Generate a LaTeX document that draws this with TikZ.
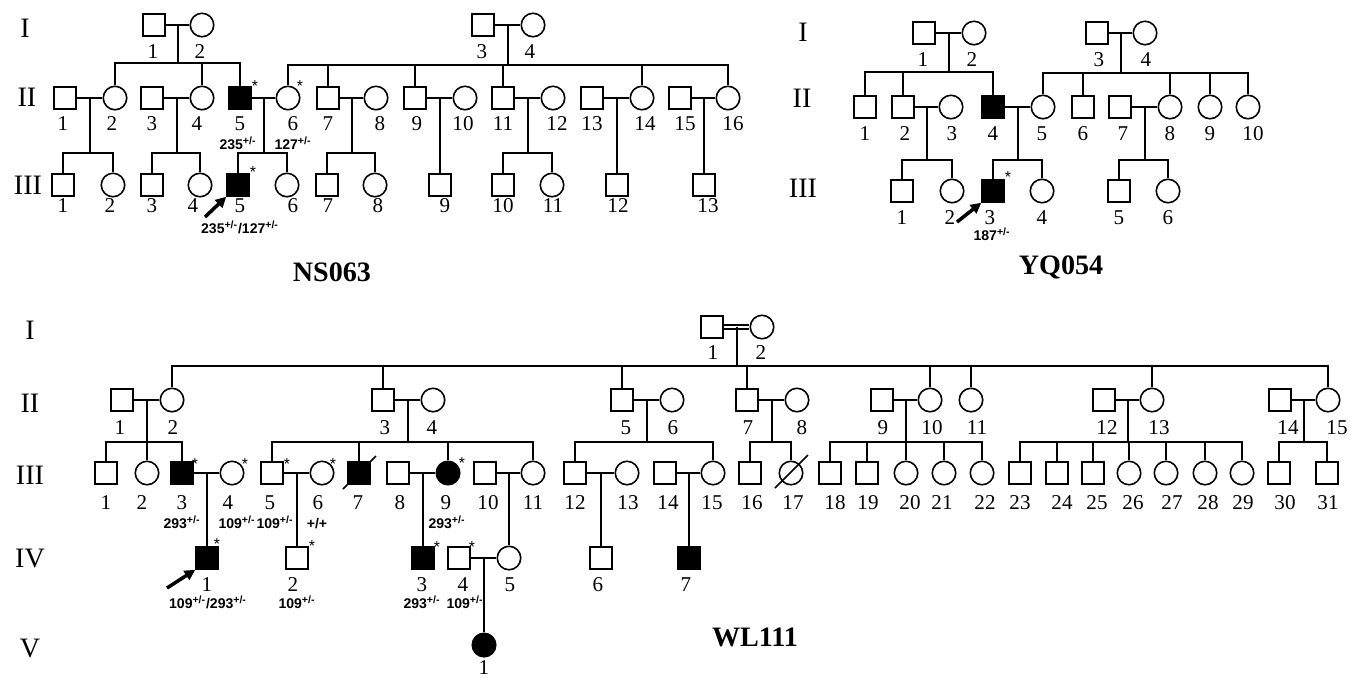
\documentclass[tikz,border=0pt]{standalone}
\usepackage{fontspec}
\setmainfont{Liberation Serif}
\newfontfamily\genofont{Liberation Sans}
\usepackage{tikz}
\usetikzlibrary{calc,arrows.meta}

\newcommand{\het}{\textsuperscript{+/-}}

\begin{document}
\begin{tikzpicture}[x=0.02cm, y=-0.02cm, line width=0.9pt,
  male/.style={draw, rectangle, minimum size=0.44cm, inner sep=0pt},
  female/.style={draw, circle, minimum size=0.47cm, inner sep=0pt},
  aff/.style={fill=black},
  num/.style={font=\fontsize{12}{14}\selectfont, inner sep=0pt},
  gen/.style={font=\fontsize{16}{18}\selectfont, inner sep=0pt},
  geno/.style={font=\genofont\bfseries\fontsize{8}{9}\selectfont, inner sep=0pt, anchor=base},
  star/.style={font=\genofont\fontsize{9}{10}\selectfont, inner sep=0pt},
  ped/.style={font=\bfseries\fontsize{16}{18}\selectfont, inner sep=0pt},
  proband/.style={-{Triangle[length=6pt,width=6pt]}, line width=2pt}]

\useasboundingbox (0,0) rectangle (1352,677);

%%%%%%%%%%%%%%%% NS063 %%%%%%%%%%%%%%%%
\node[gen] (nsGI) at (25,28) {I};
\node[gen] (nsGII) at (27,97) {II};
\node[gen] (nsGIII) at (28,185) {III};

% generation I
\node[male] (nsI1) at (154,25) {};
\node[female] (nsI2) at (202,25) {};
\node[male] (nsI3) at (483,25) {};
\node[female] (nsI4) at (533,25) {};

% generation II
\node[male] (nsII1) at (65,98) {};
\node[female] (nsII2) at (115,98) {};
\node[male] (nsII3) at (152,98) {};
\node[female] (nsII4) at (202,98) {};
\node[male, aff] (nsII5) at (240,98) {};
\node[female] (nsII6) at (288,98) {};
\node[male] (nsII7) at (328,98) {};
\node[female] (nsII8) at (376,98) {};
\node[male] (nsII9) at (415,98) {};
\node[female] (nsII10) at (465,98) {};
\node[male] (nsII11) at (503,98) {};
\node[female] (nsII12) at (553,98) {};
\node[male] (nsII13) at (592,98) {};
\node[female] (nsII14) at (642,98) {};
\node[male] (nsII15) at (680,98) {};
\node[female] (nsII16) at (728,98) {};

% generation III
\node[male] (nsIII1) at (63,185) {};
\node[female] (nsIII2) at (113,185) {};
\node[male] (nsIII3) at (152,185) {};
\node[female] (nsIII4) at (200,185) {};
\node[male, aff] (nsIII5) at (238,185) {};
\node[female] (nsIII6) at (287,185) {};
\node[male] (nsIII7) at (327,185) {};
\node[female] (nsIII8) at (375,185) {};
\node[male] (nsIII9) at (440,185) {};
\node[male] (nsIII10) at (503,185) {};
\node[female] (nsIII11) at (552,185) {};
\node[male] (nsIII12) at (617,185) {};
\node[male] (nsIII13) at (704,185) {};

% couples
\draw (nsI1) -- (nsI2);   \coordinate (nsC1) at ($(nsI1)!0.5!(nsI2)$);
\draw (nsI3) -- (nsI4);   \coordinate (nsC2) at ($(nsI3)!0.5!(nsI4)$);
\draw (nsII1) -- (nsII2); \coordinate (nsC3) at ($(nsII1)!0.5!(nsII2)$);
\draw (nsII3) -- (nsII4); \coordinate (nsC4) at ($(nsII3)!0.5!(nsII4)$);
\draw (nsII5) -- (nsII6); \coordinate (nsC5) at ($(nsII5)!0.5!(nsII6)$);
\draw (nsII7) -- (nsII8); \coordinate (nsC6) at ($(nsII7)!0.5!(nsII8)$);
\draw (nsII9) -- (nsII10); \coordinate (nsC7) at ($(nsII9)!0.5!(nsII10)$);
\draw (nsII11) -- (nsII12); \coordinate (nsC8) at ($(nsII11)!0.5!(nsII12)$);
\draw (nsII13) -- (nsII14); \coordinate (nsC9) at ($(nsII13)!0.5!(nsII14)$);
\draw (nsII15) -- (nsII16); \coordinate (nsC10) at ($(nsII15)!0.5!(nsII16)$);

% sibships
\coordinate (nsS1) at (nsC1 |- 0,63);
\draw (nsC1) -- (nsS1);
\foreach \k in {nsII2,nsII4,nsII5} \draw (\k.north) |- (nsS1);
\coordinate (nsS2) at (nsC2 |- 0,65);
\draw (nsC2) -- (nsS2);
\foreach \k in {nsII6,nsII7,nsII9,nsII11,nsII14,nsII16} \draw (\k.north) |- (nsS2);
\coordinate (nsS3) at (nsC3 |- 0,153);
\draw (nsC3) -- (nsS3);
\foreach \k in {nsIII1,nsIII2} \draw (\k.north) |- (nsS3);
\coordinate (nsS4) at (nsC4 |- 0,153);
\draw (nsC4) -- (nsS4);
\foreach \k in {nsIII3,nsIII4} \draw (\k.north) |- (nsS4);
\coordinate (nsS5) at (nsC5 |- 0,153);
\draw (nsC5) -- (nsS5);
\foreach \k in {nsIII5,nsIII6} \draw (\k.north) |- (nsS5);
\coordinate (nsS6) at (nsC6 |- 0,153);
\draw (nsC6) -- (nsS6);
\foreach \k in {nsIII7,nsIII8} \draw (\k.north) |- (nsS6);
\coordinate (nsS8) at (nsC8 |- 0,153);
\draw (nsC8) -- (nsS8);
\foreach \k in {nsIII10,nsIII11} \draw (\k.north) |- (nsS8);
\draw (nsC7) -- (nsC7 |- nsIII9.north);
\draw (nsC9) -- (nsC9 |- nsIII12.north);
\draw (nsC10) -- (nsC10 |- nsIII13.north);

% numbers
\foreach \n/\x in {1/153,2/200,3/482,4/530}
  \node[num] (nsIl\n) at (\x,52) {\n};
\foreach \n/\x in {1/63,2/112,3/152,4/197,5/240,6/293,7/328,8/380,9/417,10/463,11/503,12/557,13/592,14/645,15/685,16/733}
  \node[num] (nsIIl\n) at (\x,124) {\n};
\foreach \n/\x in {1/63,2/110,3/152,4/193,5/240,6/293,7/328,8/378,9/445,10/503,11/553,12/618,13/708}
  \node[num] (nsIIIl\n) at (\x,206) {\n};

% genotypes and marks
\node[geno] (nsG1) at (238,149) {235\het};
\node[geno] (nsG2) at (293,149) {127\het};
\node[geno] (nsG3) at (240,233) {235\het/127\het};
\node[star] (nsT1) at (255,86) {*};
\node[star] (nsT2) at (300,86) {*};
\node[star] (nsT3) at (253,172) {*};
\coordinate (nsPb) at (205,217);
\draw[proband] (nsPb) -- (nsIII5.south west);
\node[ped] (nsName) at (332,272) {NS063};

%%%%%%%%%%%%%%%% YQ054 %%%%%%%%%%%%%%%%
\node[gen] (yqGI) at (803,32) {I};
\node[gen] (yqGII) at (802,98) {II};
\node[gen] (yqGIII) at (803,188) {III};

% generation I
\node[male] (yqI1) at (924,33) {};
\node[female] (yqI2) at (974,33) {};
\node[male] (yqI3) at (1097,33) {};
\node[female] (yqI4) at (1145,33) {};

% generation II
\node[male] (yqII1) at (865,107) {};
\node[male] (yqII2) at (903,107) {};
\node[female] (yqII3) at (951,107) {};
\node[male, aff] (yqII4) at (993,107) {};
\node[female] (yqII5) at (1043,107) {};
\node[male] (yqII6) at (1083,107) {};
\node[male] (yqII7) at (1120,107) {};
\node[female] (yqII8) at (1170,107) {};
\node[female] (yqII9) at (1210,107) {};
\node[female] (yqII10) at (1248,107) {};

% generation III
\node[male] (yqIII1) at (902,191) {};
\node[female] (yqIII2) at (952,191) {};
\node[male, aff] (yqIII3) at (993,191) {};
\node[female] (yqIII4) at (1042,191) {};
\node[male] (yqIII5) at (1119,191) {};
\node[female] (yqIII6) at (1168,191) {};

% couples
\draw (yqI1) -- (yqI2);   \coordinate (yqC1) at ($(yqI1)!0.5!(yqI2)$);
\draw (yqI3) -- (yqI4);   \coordinate (yqC2) at ($(yqI3)!0.5!(yqI4)$);
\draw (yqII2) -- (yqII3); \coordinate (yqC3) at ($(yqII2)!0.5!(yqII3)$);
\draw (yqII4) -- (yqII5); \coordinate (yqC4) at ($(yqII4)!0.5!(yqII5)$);
\draw (yqII7) -- (yqII8); \coordinate (yqC5) at ($(yqII7)!0.5!(yqII8)$);

% sibships
\coordinate (yqS1) at (yqC1 |- 0,72);
\draw (yqC1) -- (yqS1);
\foreach \k in {yqII1,yqII2,yqII4} \draw (\k.north) |- (yqS1);
\coordinate (yqS2) at (yqC2 |- 0,73);
\draw (yqC2) -- (yqS2);
\foreach \k in {yqII5,yqII6,yqII8,yqII9,yqII10} \draw (\k.north) |- (yqS2);
\coordinate (yqS3) at (yqC3 |- 0,160);
\draw (yqC3) -- (yqS3);
\foreach \k in {yqIII1,yqIII2} \draw (\k.north) |- (yqS3);
\coordinate (yqS4) at (yqC4 |- 0,160);
\draw (yqC4) -- (yqS4);
\foreach \k in {yqIII3,yqIII4} \draw (\k.north) |- (yqS4);
\coordinate (yqS5) at (yqC5 |- 0,160);
\draw (yqC5) -- (yqS5);
\foreach \k in {yqIII5,yqIII6} \draw (\k.north) |- (yqS5);

% numbers
\foreach \n/\x in {1/923,2/972,3/1099,4/1146}
  \node[num] (yqIl\n) at (\x,60) {\n};
\foreach \n/\x in {1/865,2/905,3/952,4/993,5/1042,6/1083,7/1123,8/1170,9/1210,10/1253}
  \node[num] (yqIIl\n) at (\x,134) {\n};
\foreach \n/\x in {1/902,2/950,3/990,4/1042,5/1119,6/1168}
  \node[num] (yqIIIl\n) at (\x,218) {\n};

% genotype and marks
\node[geno] (yqG1) at (992,240) {187\het};
\node[star] (yqT1) at (1008,177) {*};
\coordinate (yqPb) at (957,222);
\draw[proband] (yqPb) -- (yqIII3.south west);
\node[ped] (yqName) at (1061,267) {YQ054};

%%%%%%%%%%%%%%%% WL111 %%%%%%%%%%%%%%%%
\node[gen] (wlGI) at (30,330) {I};
\node[gen] (wlGII) at (30,403) {II};
\node[gen] (wlGIII) at (30,475) {III};
\node[gen] (wlGIV) at (30,558) {IV};
\node[gen] (wlGV) at (30,648) {V};

% generation I
\node[male] (wlI1) at (712,327) {};
\node[female] (wlI2) at (762,327) {};

% generation II
\node[male] (wlII1) at (122,400) {};
\node[female] (wlII2) at (172,400) {};
\node[male] (wlII3) at (383,400) {};
\node[female] (wlII4) at (433,400) {};
\node[male] (wlII5) at (622,400) {};
\node[female] (wlII6) at (672,400) {};
\node[male] (wlII7) at (747,400) {};
\node[female] (wlII8) at (797,400) {};
\node[male] (wlII9) at (882,400) {};
\node[female] (wlII10) at (930,400) {};
\node[female] (wlII11) at (971,400) {};
\node[male] (wlII12) at (1104,400) {};
\node[female] (wlII13) at (1152,400) {};
\node[male] (wlII14) at (1280,400) {};
\node[female] (wlII15) at (1328,400) {};

% generation III
\node[male] (wlIII1) at (106,473) {};
\node[female] (wlIII2) at (147,473) {};
\node[male, aff] (wlIII3) at (182,473) {};
\node[female] (wlIII4) at (232,473) {};
\node[male] (wlIII5) at (272,473) {};
\node[female] (wlIII6) at (322,473) {};
\node[male, aff] (wlIII7) at (359,473) {};
\node[male] (wlIII8) at (398,473) {};
\node[female, aff] (wlIII9) at (448,473) {};
\node[male] (wlIII10) at (485,473) {};
\node[female] (wlIII11) at (533,473) {};
\node[male] (wlIII12) at (575,473) {};
\node[female] (wlIII13) at (627,473) {};
\node[male] (wlIII14) at (665,473) {};
\node[female] (wlIII15) at (713,473) {};
\node[male] (wlIII16) at (750,473) {};
\node[female] (wlIII17) at (791,473) {};
\node[male] (wlIII18) at (830,473) {};
\node[male] (wlIII19) at (867,473) {};
\node[female] (wlIII20) at (906,473) {};
\node[female] (wlIII21) at (944,473) {};
\node[female] (wlIII22) at (982,473) {};
\node[male] (wlIII23) at (1020,473) {};
\node[male] (wlIII24) at (1057,473) {};
\node[male] (wlIII25) at (1093,473) {};
\node[female] (wlIII26) at (1129,473) {};
\node[female] (wlIII27) at (1166,473) {};
\node[female] (wlIII28) at (1205,473) {};
\node[female] (wlIII29) at (1242,473) {};
\node[male] (wlIII30) at (1279,473) {};
\node[male] (wlIII31) at (1327,473) {};

% deceased
\draw (wlIII7) ++(-16,16) -- ++(33,-33);
\draw (wlIII17) ++(-16,15) -- ++(33,-33);

% generation IV and V
\node[male, aff] (wlIV1) at (207,558) {};
\node[male] (wlIV2) at (297,558) {};
\node[male, aff] (wlIV3) at (423,558) {};
\node[male] (wlIV4) at (459,558) {};
\node[female] (wlIV5) at (509,558) {};
\node[male] (wlIV6) at (601,558) {};
\node[male, aff] (wlIV7) at (689,558) {};
\node[female, aff] (wlV1) at (484,645) {};

% couples
\draw[double, double distance=1.3pt] (wlI1) -- (wlI2);
\coordinate (wlC1) at ($(wlI1)!0.5!(wlI2)$);
\draw (wlII1) -- (wlII2);   \coordinate (wlC2) at ($(wlII1)!0.5!(wlII2)$);
\draw (wlII3) -- (wlII4);   \coordinate (wlC3) at ($(wlII3)!0.5!(wlII4)$);
\draw (wlII5) -- (wlII6);   \coordinate (wlC4) at ($(wlII5)!0.5!(wlII6)$);
\draw (wlII7) -- (wlII8);   \coordinate (wlC5) at ($(wlII7)!0.5!(wlII8)$);
\draw (wlII9) -- (wlII10);  \coordinate (wlC6) at ($(wlII9)!0.5!(wlII10)$);
\draw (wlII12) -- (wlII13); \coordinate (wlC7) at ($(wlII12)!0.5!(wlII13)$);
\draw (wlII14) -- (wlII15); \coordinate (wlC8) at ($(wlII14)!0.5!(wlII15)$);
\draw (wlIII3) -- (wlIII4);   \coordinate (wlC9) at ($(wlIII3)!0.5!(wlIII4)$);
\draw (wlIII5) -- (wlIII6);   \coordinate (wlC10) at ($(wlIII5)!0.5!(wlIII6)$);
\draw (wlIII8) -- (wlIII9);   \coordinate (wlC11) at ($(wlIII8)!0.5!(wlIII9)$);
\draw (wlIII10) -- (wlIII11); \coordinate (wlC12) at ($(wlIII10)!0.5!(wlIII11)$);
\draw (wlIII12) -- (wlIII13); \coordinate (wlC13) at ($(wlIII12)!0.5!(wlIII13)$);
\draw (wlIII14) -- (wlIII15); \coordinate (wlC14) at ($(wlIII14)!0.5!(wlIII15)$);
\draw (wlIV4) -- (wlIV5);     \coordinate (wlC15) at ($(wlIV4)!0.5!(wlIV5)$);

% sibships
\coordinate (wlS1) at (wlC1 |- 0,366);
\draw (wlC1) -- (wlS1);
\foreach \k in {wlII2,wlII3,wlII5,wlII7,wlII10,wlII11,wlII13,wlII15} \draw (\k.north) |- (wlS1);
\coordinate (wlS2) at (wlC2 |- 0,442);
\draw (wlC2) -- (wlS2);
\foreach \k in {wlIII1,wlIII2,wlIII3} \draw (\k.north) |- (wlS2);
\coordinate (wlS3) at (wlC3 |- 0,442);
\draw (wlC3) -- (wlS3);
\foreach \k in {wlIII5,wlIII7,wlIII9,wlIII11} \draw (\k.north) |- (wlS3);
\coordinate (wlS4) at (wlC4 |- 0,442);
\draw (wlC4) -- (wlS4);
\foreach \k in {wlIII12,wlIII15} \draw (\k.north) |- (wlS4);
\coordinate (wlS5) at (wlC5 |- 0,442);
\draw (wlC5) -- (wlS5);
\foreach \k in {wlIII16,wlIII17} \draw (\k.north) |- (wlS5);
\coordinate (wlS6) at (wlC6 |- 0,442);
\draw (wlC6) -- (wlS6);
\foreach \k in {wlIII18,wlIII19,wlIII20,wlIII21,wlIII22} \draw (\k.north) |- (wlS6);
\coordinate (wlS7) at (wlC7 |- 0,442);
\draw (wlC7) -- (wlS7);
\foreach \k in {wlIII23,wlIII24,wlIII25,wlIII26,wlIII27,wlIII28,wlIII29} \draw (\k.north) |- (wlS7);
\coordinate (wlS8) at (wlC8 |- 0,442);
\draw (wlC8) -- (wlS8);
\foreach \k in {wlIII30,wlIII31} \draw (\k.north) |- (wlS8);

% single children
\draw (wlC9) -- (wlC9 |- wlIV1.north);
\draw (wlC10) -- (wlC10 |- wlIV2.north);
\draw (wlC11) -- (wlC11 |- wlIV3.north);
\draw (wlC12) -- (wlC12 |- wlIV5.north);
\draw (wlC13) -- (wlC13 |- wlIV6.north);
\draw (wlC14) -- (wlC14 |- wlIV7.north);
\draw (wlC15) -- (wlC15 |- wlV1.north);

% numbers
\foreach \n/\x in {1/713,2/761}
  \node[num] (wlIl\n) at (\x,353) {\n};
\foreach \n/\x in {1/120,2/173,3/385,4/432,5/626,6/673,7/748,8/802,9/883,10/932,11/977,12/1107,13/1159,14/1288,15/1337}
  \node[num] (wlIIl\n) at (\x,428) {\n};
\foreach \n/\x in {1/106,2/142,3/182,4/228,5/270,6/318,7/358,8/400,9/446,10/488,11/533,12/575,13/628,14/668,15/712,16/752,17/793,18/835,19/868,20/910,21/942,22/985,23/1020,24/1062,25/1097,26/1133,27/1172,28/1208,29/1243,30/1285,31/1328}
  \node[num] (wlIIIl\n) at (\x,503) {\n};
\foreach \n/\x in {1/207,2/293,3/422,4/463,5/510,6/598,7/686}
  \node[num] (wlIVl\n) at (\x,585) {\n};
\node[num] (wlVl1) at (484,668) {1};

% genotypes and marks
\node[geno] (wlG1) at (182,528) {293\het};
\node[geno] (wlG2) at (237,528) {109\het};
\node[geno] (wlG3) at (275,528) {109\het};
\node[geno] (wlG4) at (317,528) {+/+};
\node[geno] (wlG5) at (447,528) {293\het};
\node[geno] (wlG6) at (208,608) {109\het/293\het};
\node[geno] (wlG7) at (297,608) {109\het};
\node[geno] (wlG8) at (422,608) {293\het};
\node[geno] (wlG9) at (465,608) {109\het};
\node[star] (wlT1) at (195,464) {*};
\node[star] (wlT2) at (245,464) {*};
\node[star] (wlT3) at (287,464) {*};
\node[star] (wlT4) at (333,464) {*};
\node[star] (wlT5) at (462,463) {*};
\node[star] (wlT6) at (217,544) {*};
\node[star] (wlT7) at (312,546) {*};
\node[star] (wlT8) at (437,547) {*};
\node[star] (wlT9) at (472,547) {*};
\coordinate (wlPb) at (167,588);
\draw[proband] (wlPb) -- (wlIV1.south west);
\node[ped] (wlName) at (755,637) {WL111};
\end{tikzpicture}
\end{document}
